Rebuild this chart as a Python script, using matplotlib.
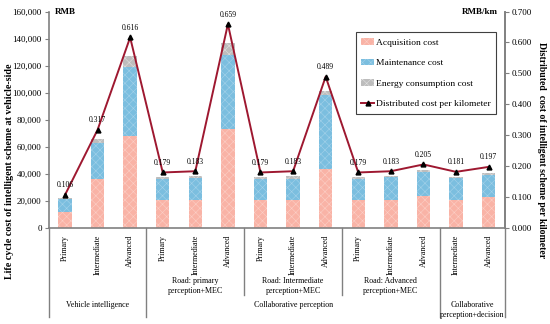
import numpy as np
import matplotlib
matplotlib.use('Agg')
import matplotlib.pyplot as plt
from matplotlib.ticker import FuncFormatter

plt.rcParams['font.family'] = 'Liberation Serif'
plt.rcParams['hatch.linewidth'] = 0.4

levels = ['Primary', 'Intermediate', 'Advanced',
          'Primary', 'Intermediate', 'Advanced',
          'Primary', 'Intermediate', 'Advanced',
          'Primary', 'Intermediate', 'Advanced',
          'Intermediate', 'Advanced']
acquisition = [12000, 36000, 68000, 20500, 20500, 73000, 20500, 20500, 43300,
               20500, 20500, 23500, 20500, 22500]
maintenance = [9000, 27000, 50800, 15300, 16000, 55000, 15300, 15500, 54700,
               15500, 16800, 17500, 16100, 16500]
energy = [1000, 2700, 8200, 1500, 1500, 8500, 1500, 2300, 3000,
          1800, 1000, 1700, 1200, 1700]
per_km = [0.106, 0.317, 0.616, 0.179, 0.183, 0.659, 0.179, 0.183, 0.489,
          0.179, 0.183, 0.205, 0.181, 0.197]

# (label, start, end) for the two rows of grouping under the axis
sub_groups = [('Road: primary\nperception+MEC', 3, 6),
              ('Road: Intermediate\nperception+MEC', 6, 9),
              ('Road: Advanced\nperception+MEC', 9, 12)]
main_groups = [('Vehicle intelligence', 0, 3),
               ('Collaborative perception', 3, 12),
               ('Collaborative\nperception+decision', 12, 14)]

c_acq = '#F9B3A6'
c_mnt = '#7BBEDF'
c_eng = '#BDBDBD'
c_line = '#9E1830'
grey = '#808080'

fig = plt.figure(figsize=(5.5, 3.24), dpi=100)
ax = fig.add_axes([0.0885, 0.297, 0.8295, 0.6675])
x = np.arange(len(levels)) + 0.5
acq = np.array(acquisition)
mnt = np.array(maintenance)
eng = np.array(energy)

w = 0.41
b1 = ax.bar(x, acq, w, color=c_acq, edgecolor='#FCCFC6', hatch='xxxx', lw=0,
            label='Acquisition cost')
b2 = ax.bar(x, mnt, w, bottom=acq, color=c_mnt, edgecolor='#A4D2EA', hatch='xxxx',
            lw=0, label='Maintenance cost')
b3 = ax.bar(x, eng, w, bottom=acq + mnt, color=c_eng, edgecolor='#E0E0E0',
            hatch='xxxx', lw=0, label='Energy consumption cost')

ax.set_xlim(0, len(levels))
ax.set_ylim(0, 160000)
ax.set_yticks(np.arange(0, 160001, 20000))
ax.yaxis.set_major_formatter(FuncFormatter(lambda v, p: '{:,.0f}'.format(v)))
ax.set_xticks(x)
ax.set_xticklabels(levels, rotation=90, fontsize=5.8)
ax.tick_params(axis='x', length=0, pad=5)
ax.tick_params(axis='y', labelsize=6.5, length=3, color=grey, pad=2)
ax.spines['top'].set_visible(False)
for s in ['left', 'bottom', 'right']:
    ax.spines[s].set_color(grey)
    ax.spines[s].set_linewidth(1.2)

ax2 = ax.twinx()
ln, = ax2.plot(x, per_km, color=c_line, lw=1.4, marker='^', ms=3.5,
               mfc='black', mec='black', label='Distributed cost per kilometer')
ax2.set_ylim(0, 0.7)
ax2.set_yticks(np.arange(0, 0.71, 0.1))
ax2.yaxis.set_major_formatter(FuncFormatter(lambda v, p: '%.3f' % v))
ax2.tick_params(axis='y', labelsize=6.5, length=3, color=grey, pad=2)
for s in ['top', 'left', 'bottom']:
    ax2.spines[s].set_visible(False)
ax2.spines['right'].set_color(grey)
ax2.spines['right'].set_linewidth(1.2)
for xi, v in zip(x, per_km):
    ax2.annotate('%.3f' % v, (xi, v), xytext=(0, 4), textcoords='offset points',
                 ha='center', va='bottom', fontsize=5.5)

ax.text(0.013, 1.0, 'RMB', transform=ax.transAxes, fontsize=6.5, fontweight='bold',
        va='center', ha='left')
ax.text(0.985, 1.0, 'RMB/km', transform=ax.transAxes, fontsize=6.5, fontweight='bold',
        va='center', ha='right')

leg = ax2.legend([b1, b2, b3, ln],
                 ['Acquisition cost', 'Maintenance cost', 'Energy consumption cost',
                  'Distributed cost per kilometer'],
                 loc='upper left', bbox_to_anchor=(0.673, 0.903), fontsize=6.8,
                 fancybox=False, framealpha=1, edgecolor='#404040',
                 labelspacing=1.25, handlelength=1.35, handletextpad=0.2,
                 borderpad=0.6, borderaxespad=0)
leg.get_frame().set_linewidth(0.8)

# grouping rows under the axis
trans = ax.get_xaxis_transform()
for xs, y1 in [(0, -0.412), (3, -0.412), (6, -0.312), (9, -0.312), (12, -0.412),
               (14, -0.412)]:
    ax.plot([xs, xs], [0, y1], color=grey, lw=1.0, transform=trans, clip_on=False)
for lab, a, b in sub_groups:
    ax.text((a + b) / 2, -0.27, lab, transform=trans, ha='center', va='center',
            fontsize=5.8, linespacing=1.25)
for lab, a, b in main_groups:
    yy = -0.38 if '\n' in lab else -0.355
    ax.text((a + b) / 2, yy, lab, transform=trans, ha='center', va='center',
            fontsize=5.8, linespacing=1.25)

fig.text(0.018, 0.472, 'Life cycle cost of intelligent scheme at vehicle-side',
         rotation=90, ha='center', va='center', fontsize=7.3, fontweight='bold')
fig.text(0.984, 0.537, 'Distributed  cost of intelligent scheme per kilometer',
         rotation=270, ha='center', va='center', fontsize=7, fontweight='bold')

fig.savefig('out.png', dpi=100)
